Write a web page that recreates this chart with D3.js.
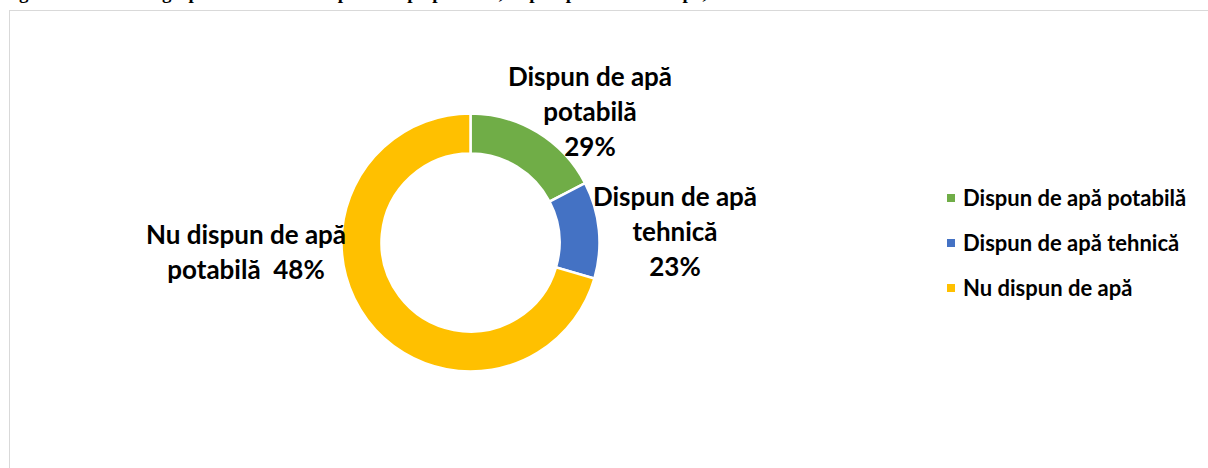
<!DOCTYPE html>
<html>
<head>
<meta charset="utf-8">
<script src="https://cdn.jsdelivr.net/npm/d3@7"></script>
<style>
  body { margin: 0; background: #fff; }
  svg { display: block; }
</style>
</head>
<body>
<div id="chart"></div>
<script>
// chart data
const categories = ['Dispun de apă potabilă', 'Dispun de apă tehnică', 'Nu dispun de apă'];
const sliceValues = [17.4, 12.1, 70.5];          // size of each slice as drawn
const labelLines = [
    ['Dispun de apă', 'potabilă', '29%'],
    ['Dispun de apă', 'tehnică', '23%'],
    ['Nu dispun de apă', 'potabilă  48%']
];
const colors = ['#70AD47', '#4472C4', '#FFC000'];
const titleText = 'Figura 2. Ponderea gospodăriilor care dispun de apă potabilă, după tipul sursei de apă, %';

const width = 1208, height = 468;
const cx = 470.5, cy = 242.5;
const outerR = 129, innerR = 89;
const font = 'Lato, Calibri, Carlito, sans-serif';

const svg = d3.select('#chart').append('svg')
    .attr('width', width)
    .attr('height', height);

// title, cut off by the top edge like in the source image
svg.append('text')
    .attr('x', 2)
    .attr('y', -1)
    .style('font-family', '"Liberation Serif", "Times New Roman", serif')
    .style('font-weight', 'bold')
    .style('font-size', '19px')
    .text(titleText);

// chart area border
svg.append('rect')
    .attr('x', 9.5)
    .attr('y', 10.5)
    .attr('width', width)
    .attr('height', height)
    .attr('fill', 'none')
    .attr('stroke', '#d9d9d9');

const pie = d3.pie().sort(null).value(d => d);
const arc = d3.arc().innerRadius(innerR).outerRadius(outerR);

const g = svg.append('g').attr('transform', `translate(${cx},${cy})`);
g.selectAll('path')
    .data(pie(sliceValues))
    .enter().append('path')
    .attr('d', arc)
    .attr('fill', (d, i) => colors[i])
    .attr('stroke', '#fff')
    .attr('stroke-width', 2.5);

// data labels (placed like the original, outside the ring)
const labelAnchors = [[590, 86], [675, 206], [246, 244]];
const lineGap = 35;
labelLines.forEach((lines, i) => {
    const t = svg.append('text')
        .attr('text-anchor', 'middle')
        .style('font-family', font)
        .style('font-weight', 'bold')
        .style('font-size', '26px')
        .attr('fill', '#000');
    lines.forEach((ln, j) => {
        t.append('tspan')
            .attr('x', labelAnchors[i][0])
            .attr('y', labelAnchors[i][1] + j * lineGap)
            .style('white-space', 'pre')
            .text(ln);
    });
});

// legend
const legend = svg.append('g').attr('transform', 'translate(947,198)');
const rows = legend.selectAll('g')
    .data(categories)
    .enter().append('g')
    .attr('transform', (d, i) => `translate(0,${i * 45})`);
rows.append('rect')
    .attr('x', 0).attr('y', -4)
    .attr('width', 8).attr('height', 8)
    .attr('fill', (d, i) => colors[i]);
rows.append('text')
    .attr('x', 16)
    .attr('y', 7.5)
    .style('font-family', font)
    .style('font-weight', 'bold')
    .style('font-size', '22px')
    .text(d => d);
</script>
</body>
</html>
